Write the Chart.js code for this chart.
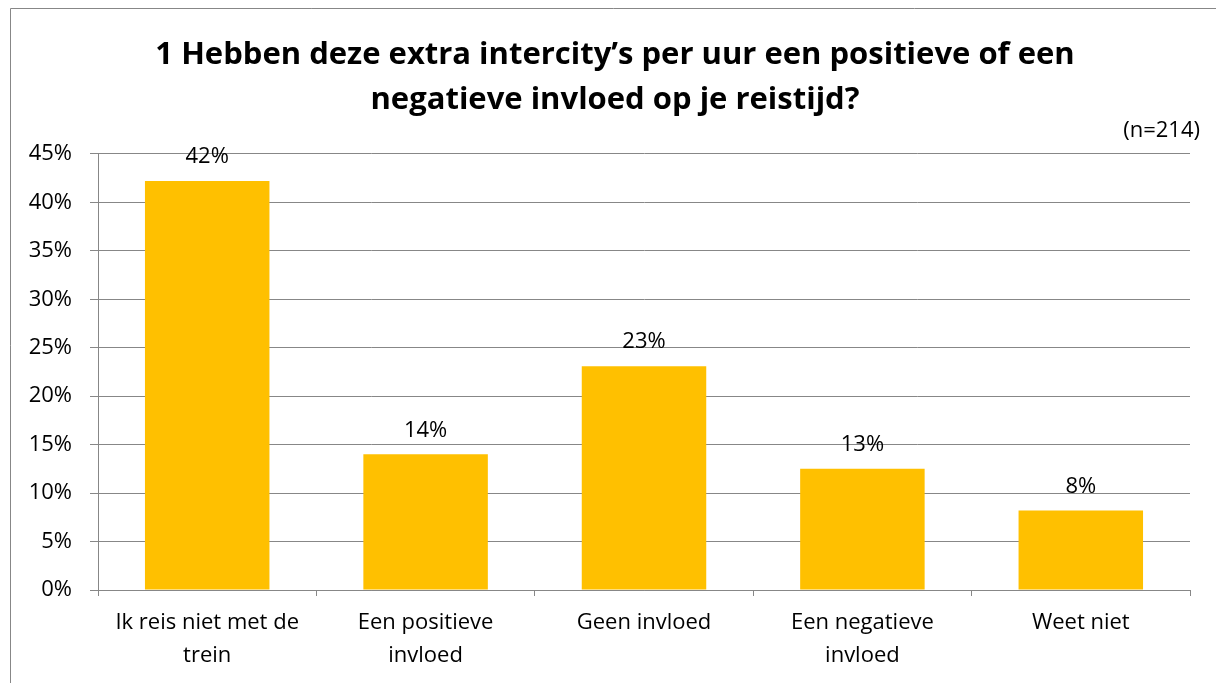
<!DOCTYPE html>
<html>
<head>
<meta charset="utf-8">
<script src="https://cdn.jsdelivr.net/npm/chart.js"></script>
<style>
  html, body { margin: 0; padding: 0; background: #fff; }
  #wrap { width: 1216px; height: 683px; }
</style>
</head>
<body>
<div id="wrap"><canvas id="grafiek"></canvas></div>
<script>
// Gegevens uit de grafiek
const categorieen = [
    ['Ik reis niet met de', 'trein'],
    ['Een positieve', 'invloed'],
    'Geen invloed',
    ['Een negatieve', 'invloed'],
    'Weet niet'
];
const percentages = [42.2, 14.0, 23.1, 12.5, 8.2];
const titelRegels = [
    '1 Hebben deze extra intercity\u2019s per uur een positieve of een',
    'negatieve invloed op je reistijd?'
];
const aantal = '(n=214)';

const grijs = '#878787';
const lettertype = '"Open Sans", sans-serif';

// Percentages boven de staven + rand + n=
const extraTekst = {
    id: 'extraTekst',
    afterLayout(chart) {
        // titel iets naar rechts centreren, zoals in het origineel
        if (chart.titleBlock) chart.titleBlock.left = 40;
    },
    beforeDraw(chart) {
        const ctx = chart.ctx;
        ctx.save();
        ctx.strokeStyle = grijs;
        ctx.lineWidth = 1;
        ctx.beginPath();
        ctx.moveTo(10.5, chart.height);
        ctx.lineTo(10.5, 8.5);
        ctx.lineTo(chart.width, 8.5);
        ctx.stroke();
        ctx.restore();
    },
    afterDatasetsDraw(chart) {
        const ctx = chart.ctx;
        const meta = chart.getDatasetMeta(0);
        ctx.save();
        ctx.font = '22px ' + lettertype;
        ctx.fillStyle = '#000';
        ctx.textAlign = 'center';
        ctx.textBaseline = 'middle';
        meta.data.forEach((bar, i) => {
            ctx.fillText(Math.round(percentages[i]) + '%', bar.x, bar.y - 24);
        });
        ctx.textAlign = 'right';
        ctx.fillText(aantal, 1200, 131);
        ctx.restore();
    }
};

new Chart(document.getElementById('grafiek'), {
    type: 'bar',
    data: {
        labels: categorieen,
        datasets: [{
            data: percentages,
            backgroundColor: '#FFC000',
            categoryPercentage: 1,
            barPercentage: 0.57
        }]
    },
    options: {
        responsive: true,
        maintainAspectRatio: false,
        animation: false,
        layout: { padding: { left: 10, right: 26, top: 0, bottom: 0 } },
        plugins: {
            legend: { display: false },
            tooltip: { enabled: false },
            title: {
                display: true,
                text: titelRegels,
                color: '#000',
                font: { family: lettertype, size: 31, weight: 'bold', lineHeight: 1.45 },
                padding: { top: 33, bottom: 31 }
            }
        },
        scales: {
            x: {
                afterFit: s => { s.height = 93; },
                border: { display: true, color: grijs },
                grid: {
                    offset: true,
                    drawOnChartArea: false,
                    tickLength: 6,
                    color: grijs
                },
                ticks: {
                    color: '#000',
                    padding: 10,
                    maxRotation: 0,
                    font: { family: lettertype, size: 22, lineHeight: 1.5 }
                }
            },
            y: {
                min: 0,
                max: 45,
                afterFit: s => { s.width = 88; },
                border: { display: true, color: grijs },
                grid: { color: grijs, tickLength: 8 },
                ticks: {
                    stepSize: 5,
                    color: '#000',
                    padding: 18,
                    font: { family: lettertype, size: 22 },
                    callback: v => v + '%'
                }
            }
        }
    },
    plugins: [extraTekst]
});
</script>
</body>
</html>
